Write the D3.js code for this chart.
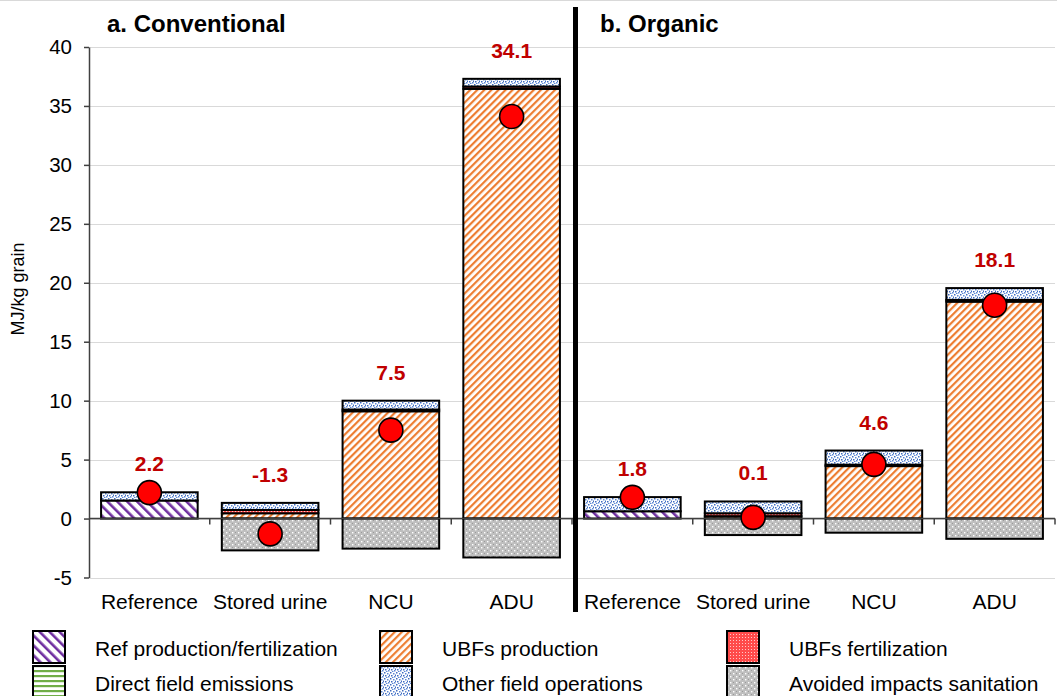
<!DOCTYPE html>
<html>
<head>
<meta charset="utf-8">
<script src="https://cdn.jsdelivr.net/npm/d3@7"></script>
<style>
  html, body { margin: 0; padding: 0; background: #fff; }
  svg { display: block; font-family: "Liberation Sans", Arial, sans-serif; }
</style>
</head>
<body>
<svg id="chart" width="1057" height="696"></svg>
<script>
// Scenario labels and the two farming systems
const systems = ["a. Conventional", "b. Organic"];
const categories = ["Reference", "Stored urine", "NCU", "ADU"];

// Energy use contributions, MJ/kg grain (conventional 4 scenarios, then organic 4)
const refProduction    = [1.53, 0,    0,    0,     0.62, 0,    0,    0];
const ubfProduction    = [0,    0.45, 9.1,  36.45, 0,    0.2,  4.45, 18.4];
const ubfFertilization = [0,    0.28, 0.15, 0.2,   0,    0.25, 0.12, 0.15];
const directEmissions  = [0,    0,    0,    0,     0,    0,    0,    0];
const otherField       = [0.7,  0.6,  0.75, 0.65,  1.2,  1.0,  1.2,  1.0];
const avoidedSanitation = [0,   -2.7, -2.55, -3.3, 0,   -1.4, -1.2, -1.72];
const netTotal         = [2.2, -1.3,  7.5,  34.1,  1.8,  0.1,  4.6,  18.1];

const yTicks = [-5, 0, 5, 10, 15, 20, 25, 30, 35, 40];

const seriesInfo = [
  { name: "Ref production/fertilization", values: refProduction,    fill: "url(#pRef)" },
  { name: "UBFs production",              values: ubfProduction,    fill: "url(#pUbfProd)" },
  { name: "UBFs fertilization",           values: ubfFertilization, fill: "url(#pUbfFert)" },
  { name: "Direct field emissions",       values: directEmissions,  fill: "url(#pDirect)" },
  { name: "Other field operations",       values: otherField,       fill: "url(#pOther)" },
  { name: "Avoided impacts sanitation",   values: avoidedSanitation, fill: "url(#pAvoided)" }
];

const svg = d3.select("#chart");
const W = 1057, H = 696;
const plotLeft = 89, plotRight = 1055, plotTop = 47, plotBottom = 577.5;
const labelSize = 21;

// ---------- fill patterns ----------
const defs = svg.append("defs");

function stripes(id, color, size, width, angle) {
  const p = defs.append("pattern").attr("id", id)
    .attr("patternUnits", "userSpaceOnUse")
    .attr("width", size).attr("height", size)
    .attr("patternTransform", `rotate(${angle})`);
  p.append("rect").attr("width", size).attr("height", size).attr("fill", "#fff");
  p.append("rect").attr("x", 0).attr("y", 0).attr("width", width).attr("height", size).attr("fill", color);
}
stripes("pRef", "#7030a0", 7, 2.6, -45);
stripes("pUbfProd", "#ed7d31", 5, 2.2, 45);

// green horizontal lines
{
  const p = defs.append("pattern").attr("id", "pDirect")
    .attr("patternUnits", "userSpaceOnUse").attr("width", 6).attr("height", 5);
  p.append("rect").attr("width", 6).attr("height", 5).attr("fill", "#fff");
  p.append("rect").attr("y", 0).attr("width", 6).attr("height", 2.2).attr("fill", "#70ad47");
}
// red fine dotted
{
  const p = defs.append("pattern").attr("id", "pUbfFert")
    .attr("patternUnits", "userSpaceOnUse").attr("width", 3).attr("height", 3);
  p.append("rect").attr("width", 3).attr("height", 3).attr("fill", "#ff4b4b");
  p.append("rect").attr("x", 1).attr("y", 1).attr("width", 1).attr("height", 1).attr("fill", "#ffc8c8");
}
// blue speckles on white
{
  const p = defs.append("pattern").attr("id", "pOther")
    .attr("patternUnits", "userSpaceOnUse").attr("width", 6).attr("height", 6);
  p.append("rect").attr("width", 6).attr("height", 6).attr("fill", "#fff");
  [[0, 0], [3, 1], [1, 3], [4, 4], [5, 2.5], [2, 5]].forEach(([px, py], k) => {
    p.append("rect").attr("x", px).attr("y", py).attr("width", 1.5).attr("height", 1.5)
      .attr("fill", k % 2 ? "#5b87d6" : "#3f6cc0");
  });
}
// grey with light speckles
{
  const p = defs.append("pattern").attr("id", "pAvoided")
    .attr("patternUnits", "userSpaceOnUse").attr("width", 6).attr("height", 6);
  p.append("rect").attr("width", 6).attr("height", 6).attr("fill", "#bfbfbf");
  p.append("rect").attr("x", 1).attr("y", 1).attr("width", 1.4).attr("height", 1.4).attr("fill", "#fff");
  p.append("rect").attr("x", 4).attr("y", 4).attr("width", 1.4).attr("height", 1.4).attr("fill", "#fff");
  p.append("rect").attr("x", 4).attr("y", 1).attr("width", 1).attr("height", 1).attr("fill", "#9a9a9a");
  p.append("rect").attr("x", 1).attr("y", 4).attr("width", 1).attr("height", 1).attr("fill", "#9a9a9a");
}

// ---------- scales ----------
const keys = d3.range(systems.length * categories.length);
const x = d3.scaleBand().domain(keys).range([plotLeft, plotRight]).paddingInner(0.2).paddingOuter(0.1);
const y = d3.scaleLinear().domain([-5, 40]).range([plotBottom, plotTop]);
const step = x.step();

// faint top border
svg.append("line").attr("x1", 0).attr("x2", W).attr("y1", 0.5).attr("y2", 0.5)
  .attr("stroke", "#d9d9d9");

// gridlines
svg.append("g").selectAll("line").data(yTicks).join("line")
  .attr("x1", plotLeft).attr("x2", plotRight)
  .attr("y1", d => Math.round(y(d)) + 0.5).attr("y2", d => Math.round(y(d)) + 0.5)
  .attr("stroke", "#d9d9d9").attr("stroke-width", 1.2);

// ---------- stacked bars ----------
const barG = svg.append("g");
keys.forEach(i => {
  let pos = 0, neg = 0;
  seriesInfo.forEach(s => {
    const v = s.values[i];
    if (!v) return;
    let y0, y1;
    if (v > 0) { y0 = pos; y1 = pos + v; pos = y1; }
    else { y0 = neg + v; y1 = neg; neg = y0; }
    barG.append("rect")
      .attr("x", x(i)).attr("width", x.bandwidth())
      .attr("y", y(y1)).attr("height", y(y0) - y(y1))
      .attr("fill", s.fill)
      .attr("stroke", "#000").attr("stroke-width", 2);
  });
});

// ---------- axes ----------
const yAxis = d3.axisLeft(y).tickValues(yTicks).tickFormat(d => String(d))
  .tickSize(5).tickSizeOuter(0).tickPadding(12);
const yg = svg.append("g").attr("transform", `translate(${plotLeft},0)`).call(yAxis);
yg.select(".domain").attr("stroke", "#404040").attr("stroke-width", 1.5);
yg.selectAll(".tick line").attr("stroke", "#404040").attr("stroke-width", 1.5);
yg.selectAll(".tick text").attr("font-size", 20.5).attr("fill", "#000")
  .attr("font-family", "Liberation Sans, Arial, sans-serif");

// zero line with category separator ticks
const yZero = y(0);
svg.append("line").attr("x1", plotLeft).attr("x2", plotRight).attr("y1", yZero).attr("y2", yZero)
  .attr("stroke", "#404040").attr("stroke-width", 1.5);
svg.append("g").selectAll("line").data(d3.range(1, keys.length + 1)).join("line")
  .attr("x1", d => plotLeft + d * step).attr("x2", d => plotLeft + d * step)
  .attr("y1", yZero).attr("y2", yZero + 6)
  .attr("stroke", "#404040").attr("stroke-width", 1.5);

// category labels
svg.append("g").selectAll("text").data(keys).join("text")
  .attr("x", d => x(d) + x.bandwidth() / 2)
  .attr("y", 609)
  .attr("text-anchor", "middle").attr("font-size", labelSize)
  .text(d => categories[d % categories.length]);

// y axis title
svg.append("text")
  .attr("transform", `translate(24,289) rotate(-90)`)
  .attr("text-anchor", "middle").attr("font-size", 18)
  .text("MJ/kg grain");

// system titles
svg.append("g").selectAll("text").data(systems).join("text")
  .attr("x", (d, i) => i === 0 ? 107 : 600)
  .attr("y", 32)
  .attr("font-size", 24).attr("font-weight", "bold")
  .text(d => d);

// divider between systems
svg.append("line")
  .attr("x1", plotLeft + 4 * step + 3.5).attr("x2", plotLeft + 4 * step + 3.5)
  .attr("y1", 7).attr("y2", 612)
  .attr("stroke", "#000").attr("stroke-width", 5);

// ---------- net totals ----------
keys.forEach(i => {
  const posTop = d3.sum(seriesInfo, s => Math.max(0, s.values[i]));
  svg.append("text")
    .attr("x", x(i) + x.bandwidth() / 2)
    .attr("y", y(posTop) - 21)
    .attr("text-anchor", "middle")
    .attr("font-size", 21).attr("font-weight", "bold").attr("fill", "#c00000")
    .text(netTotal[i].toFixed(1));
});
svg.append("g").selectAll("circle").data(keys).join("circle")
  .attr("cx", d => x(d) + x.bandwidth() / 2)
  .attr("cy", d => y(netTotal[d]))
  .attr("r", 12)
  .attr("fill", "#ff0000").attr("stroke", "#000").attr("stroke-width", 1.6);

// ---------- legend ----------
const legendCols = [33, 380, 727];
const legendRows = [631, 666];
const lg = svg.append("g");
seriesInfo.forEach((s, i) => {
  const col = i % 3, row = Math.floor(i / 3);
  const lx = legendCols[col], ly = legendRows[row];
  lg.append("rect").attr("x", lx).attr("y", ly).attr("width", 32).attr("height", 32)
    .attr("fill", s.fill).attr("stroke", "#000").attr("stroke-width", 2);
  lg.append("text").attr("x", lx + 62).attr("y", ly + 25)
    .attr("font-size", labelSize).text(s.name);
});
</script>
</body>
</html>
